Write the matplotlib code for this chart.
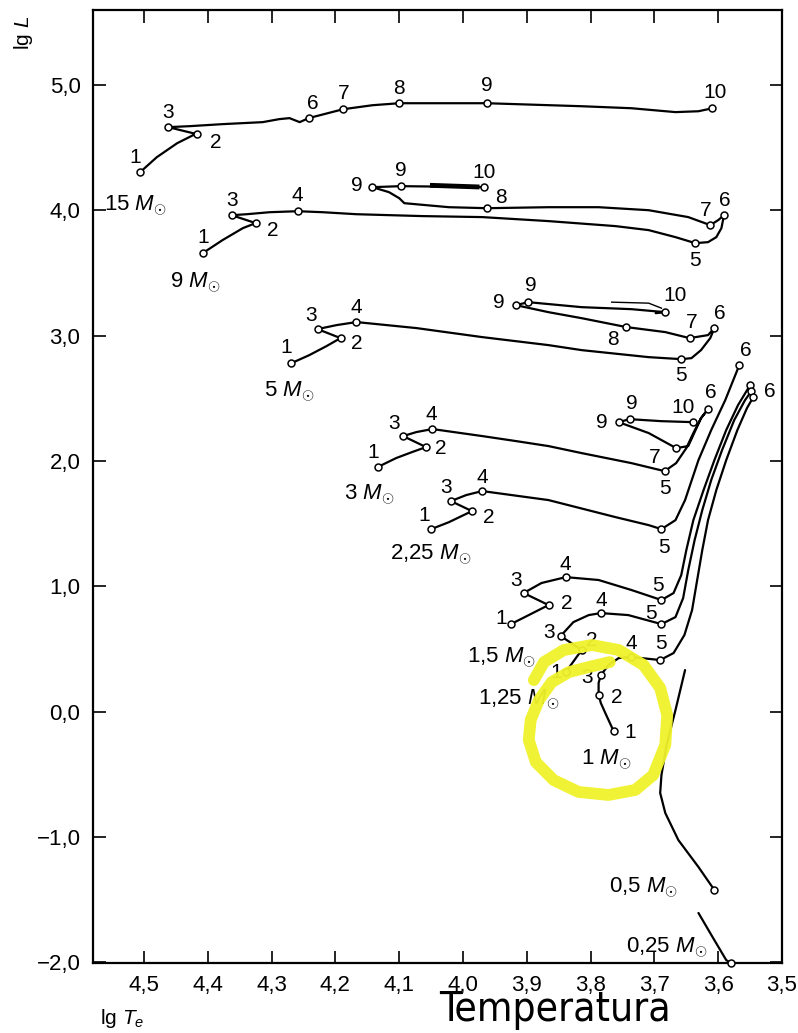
import matplotlib
matplotlib.use('agg')
import matplotlib.pyplot as plt
from matplotlib import font_manager

plt.rcParams['font.family'] = ['Liberation Sans', 'DejaVu Sans']
plt.rcParams['mathtext.fontset'] = 'custom'
plt.rcParams['mathtext.rm'] = 'Liberation Sans'
plt.rcParams['mathtext.it'] = 'Liberation Sans:italic'

# Axis ticks (lg Te, lg L) with decimal commas as in the original
x_ticks = [4.5, 4.4, 4.3, 4.2, 4.1, 4.0, 3.9, 3.8, 3.7, 3.6, 3.5]
x_ticklabels = ['4,5', '4,4', '4,3', '4,2', '4,1', '4,0', '3,9', '3,8', '3,7', '3,6', '3,5']
y_ticks = [-2, -1, 0, 1, 2, 3, 4, 5]
y_ticklabels = ['\u22122,0', '\u22121,0', '0,0', '1,0', '2,0', '3,0', '4,0', '5,0']

# Evolutionary tracks: lg Te, lg L
m15_T = [4.506, 4.480, 4.448, 4.423, 4.417, 4.462, 4.428, 4.377, 4.314, 4.288, 4.272, 4.264,
         4.256, 4.242, 4.188, 4.142, 4.100, 4.048, 3.963, 3.814, 3.736, 3.667, 3.631, 3.609]
m15_L = [4.306, 4.425, 4.537, 4.601, 4.609, 4.665, 4.673, 4.689, 4.705, 4.729, 4.737, 4.721,
         4.705, 4.737, 4.808, 4.840, 4.856, 4.856, 4.856, 4.832, 4.816, 4.785, 4.792, 4.816]
m15_stage = ['1', '2', '3', '6', '7', '8', '9', '10']
m15_stage_T = [4.506, 4.417, 4.462, 4.242, 4.188, 4.100, 3.963, 3.609]
m15_stage_L = [4.306, 4.609, 4.665, 4.737, 4.808, 4.856, 4.856, 4.816]

m9_T = [4.408, 4.377, 4.345, 4.325, 4.3625, 4.339, 4.303, 4.259, 4.220, 4.167, 4.064, 3.970,
        3.866, 3.761, 3.709, 3.667, 3.636, 3.616, 3.603, 3.595, 3.591, 3.600, 3.6125, 3.647,
        3.709, 3.7875, 3.866, 3.9625, 4.022, 4.092, 4.100, 4.116, 4.142, 4.097, 3.967]
m9_L = [3.659, 3.763, 3.859, 3.899, 3.962, 3.970, 3.986, 3.994, 3.986, 3.970, 3.955, 3.947,
        3.915, 3.875, 3.843, 3.787, 3.739, 3.747, 3.787, 3.859, 3.962, 3.923, 3.883, 3.947,
        4.002, 4.026, 4.026, 4.018, 4.026, 4.058, 4.098, 4.146, 4.186, 4.194, 4.186]
m9_blob_T = [4.048, 3.978]
m9_blob_L = [4.200, 4.188]
m9_stage = ['1', '2', '3', '4', '5', '6', '7', '8', '9', '9', '10']
m9_stage_T = [4.408, 4.325, 4.3625, 4.259, 3.636, 3.591, 3.6125, 3.9625, 4.142, 4.097, 3.967]
m9_stage_L = [3.659, 3.899, 3.962, 3.994, 3.739, 3.962, 3.883, 4.018, 4.186, 4.194, 4.186]

m5_T = [4.269, 4.241, 4.214, 4.192, 4.228, 4.198, 4.167, 4.073, 3.970, 3.866, 3.814, 3.709,
        3.658, 3.642, 3.627, 3.6125, 3.606, 3.616, 3.645, 3.683, 3.744, 3.814, 3.866, 3.917,
        3.898, 3.814, 3.736, 3.683, 3.698]
m5_L = [2.781, 2.845, 2.917, 2.981, 3.053, 3.085, 3.109, 3.061, 2.989, 2.925, 2.885, 2.829,
        2.813, 2.821, 2.885, 2.981, 3.061, 3.005, 2.981, 3.029, 3.069, 3.140, 3.188, 3.244,
        3.268, 3.228, 3.212, 3.188, 3.180]
m5_extra_T = [3.767, 3.709, 3.689]
m5_extra_L = [3.268, 3.260, 3.220]
m5_stage = ['1', '2', '3', '4', '5', '6', '7', '8', '9', '9', '10']
m5_stage_T = [4.269, 4.192, 4.228, 4.167, 3.658, 3.606, 3.645, 3.744, 3.917, 3.898, 3.683]
m5_stage_L = [2.781, 2.981, 3.053, 3.109, 2.813, 3.061, 2.981, 3.069, 3.244, 3.268, 3.188]

m3_T = [4.134, 4.105, 4.080, 4.058, 4.094, 4.073, 4.048, 3.970, 3.917, 3.866, 3.814, 3.736,
        3.684, 3.666, 3.650, 3.639, 3.627, 3.616, 3.627, 3.647, 3.666, 3.709, 3.756, 3.739,
        3.689, 3.639]
m3_L = [1.951, 2.023, 2.071, 2.111, 2.199, 2.231, 2.255, 2.199, 2.159, 2.119, 2.063, 1.983,
        1.919, 1.983, 2.103, 2.223, 2.342, 2.414, 2.342, 2.119, 2.103, 2.223, 2.310, 2.334,
        2.318, 2.310]
m3_stage = ['1', '2', '3', '4', '5', '6', '7', '9', '9', '10']
m3_stage_T = [4.134, 4.058, 4.094, 4.048, 3.684, 3.616, 3.666, 3.756, 3.739, 3.639]
m3_stage_L = [1.951, 2.111, 2.199, 2.255, 1.919, 2.414, 2.103, 2.310, 2.334, 2.310]

m225_T = [4.050, 4.022, 3.986, 4.019, 3.995, 3.970, 3.866, 3.761, 3.709, 3.689, 3.667, 3.652,
          3.631, 3.611, 3.589, 3.567]
m225_L = [1.456, 1.512, 1.600, 1.680, 1.728, 1.760, 1.688, 1.552, 1.488, 1.456, 1.528, 1.688,
          2.007, 2.247, 2.486, 2.765]
m225_stage = ['1', '2', '3', '4', '5', '6']
m225_stage_T = [4.050, 3.986, 4.019, 3.970, 3.689, 3.567]
m225_stage_L = [1.456, 1.600, 1.680, 1.760, 1.456, 2.765]

m15s_T = [3.925, 3.897, 3.866, 3.905, 3.877, 3.839, 3.7875, 3.736, 3.689, 3.670, 3.658, 3.650,
          3.639, 3.623, 3.606, 3.5875, 3.569, 3.550]
m15s_L = [0.698, 0.770, 0.850, 0.946, 1.026, 1.073, 1.050, 0.970, 0.890, 0.946, 1.089, 1.289,
          1.528, 1.768, 2.007, 2.247, 2.446, 2.606]
m15s_stage = ['1', '2', '3', '4', '5', '']
m15s_stage_T = [3.925, 3.866, 3.905, 3.839, 3.689, 3.550]
m15s_stage_L = [0.698, 0.850, 0.946, 1.073, 0.890, 2.606]

m125_T = [3.839, 3.814, 3.847, 3.827, 3.803, 3.784, 3.741, 3.689, 3.667, 3.655, 3.647, 3.637,
          3.625, 3.611, 3.594, 3.575, 3.558, 3.548]
m125_L = [0.315, 0.491, 0.603, 0.714, 0.770, 0.786, 0.770, 0.698, 0.754, 0.906, 1.129, 1.369,
          1.608, 1.848, 2.087, 2.326, 2.486, 2.558]
m125_stage = ['1', '2', '3', '4', '5', '6']
m125_stage_T = [3.839, 3.814, 3.847, 3.784, 3.689, 3.548]
m125_stage_L = [0.315, 0.491, 0.603, 0.786, 0.698, 2.558]

m1_T = [3.764, 3.777, 3.784, 3.7875, 3.7875, 3.784, 3.772, 3.756, 3.736, 3.691, 3.670, 3.653,
        3.641, 3.633, 3.625, 3.616, 3.603, 3.5875, 3.570, 3.555, 3.545]
m1_L = [-0.156, -0.012, 0.068, 0.132, 0.228, 0.291, 0.371, 0.427, 0.435, 0.411, 0.467, 0.611,
        0.810, 1.050, 1.289, 1.528, 1.768, 2.007, 2.247, 2.422, 2.510]
m1_stage = ['1', '2', '3', '4', '5', '']
m1_stage_T = [3.764, 3.7875, 3.784, 3.736, 3.691, 3.545]
m1_stage_L = [-0.156, 0.132, 0.291, 0.435, 0.411, 2.510]

m05_T = [3.652, 3.667, 3.681, 3.689, 3.691, 3.683, 3.6625, 3.631, 3.606]
m05_L = [0.331, 0.012, -0.267, -0.507, -0.650, -0.810, -1.026, -1.241, -1.425]

m025_T = [3.631, 3.608, 3.5875, 3.580]
m025_L = [-1.608, -1.808, -1.984, -2.007]

# Hand-drawn yellow highlight around the 1 Msun track
circle_T = [3.770, 3.803, 3.834, 3.861, 3.881, 3.894, 3.897, 3.886, 3.858, 3.819, 3.772,
            3.730, 3.702, 3.683, 3.680, 3.691, 3.717, 3.756, 3.798, 3.842, 3.873, 3.889]
circle_L = [0.395, 0.355, 0.315, 0.235, 0.092, -0.068, -0.227, -0.403, -0.547, -0.642, -0.666,
            -0.626, -0.507, -0.267, -0.028, 0.188, 0.371, 0.491, 0.531, 0.491, 0.395, 0.251]

# label offsets for the stage numbers (pixels)
offsets = {
    'm15': [(-5, 15), (19, -8), (0, 15), (4, 15), (1, 16), (0, 15), (0, 18), (3, 16)],
    'm9': [(0, 16), (17, -7), (0, 15), (0, 16), (0, -17), (1, 15), (-5, 15), (14, 11),
           (-16, 2), (0, 16), (0, 15)],
    'm5': [(-5, 16), (16, -5), (-6, 14), (0, 15), (0, -16), (5, 15), (2, 16), (-13, -12),
           (-17, 3), (3, 17), (10, 17)],
    'm3': [(-4, 15), (15, -1), (-9, 13), (-1, 15), (0, -17), (3, 17), (-21, -9), (-17, 0),
           (2, 16), (-10, 15)],
    'm225': [(-7, 14), (17, -6), (-5, 14), (0, 14), (3, -18), (7, 15)],
    'm15s': [(-10, 6), (18, 2), (-8, 13), (0, 13), (-3, 15), (0, 0)],
    'm125': [(-10, 0), (10, 10), (-12, 4), (0, 13), (-10, 11), (18, 0)],
    'm1': [(17, -1), (18, -2), (-14, -2), (0, 14), (1, 17), (0, 0)],
}

tracks = [
    ('m15', m15_T, m15_L, m15_stage, m15_stage_T, m15_stage_L),
    ('m9', m9_T, m9_L, m9_stage, m9_stage_T, m9_stage_L),
    ('m5', m5_T, m5_L, m5_stage, m5_stage_T, m5_stage_L),
    ('m3', m3_T, m3_L, m3_stage, m3_stage_T, m3_stage_L),
    ('m225', m225_T, m225_L, m225_stage, m225_stage_T, m225_stage_L),
    ('m15s', m15s_T, m15s_L, m15s_stage, m15s_stage_T, m15s_stage_L),
    ('m125', m125_T, m125_L, m125_stage, m125_stage_T, m125_stage_L),
    ('m1', m1_T, m1_L, m1_stage, m1_stage_T, m1_stage_L),
]

fig = plt.figure(figsize=(7.98, 10.33), dpi=100)
ax = fig.add_axes([0.1165, 0.0678, 0.8635, 0.9225])

line_kw = dict(color='black', lw=1.6, solid_joinstyle='round', solid_capstyle='round')
circ_kw = dict(ls='none', marker='o', ms=5, mfc='white', mec='black', mew=1.1, zorder=4,
               clip_on=False)

for key, T, L, stage, sT, sL in tracks:
    ax.plot(T, L, **line_kw)
    ax.plot(sT, sL, **circ_kw)
    for lab, x, y, (dx, dy) in zip(stage, sT, sL, offsets[key]):
        if lab:
            ax.annotate(lab, (x, y), xytext=(dx, dy), textcoords='offset pixels',
                        ha='center', va='center', fontsize=15)

ax.plot(m9_blob_T, m9_blob_L, color='black', lw=3.5)
ax.plot(m5_extra_T, m5_extra_L, color='black', lw=1.0)
ax.plot(m05_T, m05_L, **line_kw)
ax.plot(m05_T[-1:], m05_L[-1:], **circ_kw)
ax.plot(m025_T, m025_L, **line_kw)
ax.plot(m025_T[-1:], m025_L[-1:], **circ_kw)

# mass labels
mass_labels = [
    (4.514, 4.042, '15'), (4.420, 3.420, '9'), (4.272, 2.550, '5'), (4.147, 1.728, '3'),
    (4.050, 1.250, '2,25'), (3.939, 0.427, '1,5'), (3.9125, 0.092, '1,25'),
    (3.775, -0.387, '1'), (3.717, -1.409, '0,5'), (3.681, -1.888, '0,25'),
]
for x, y, m in mass_labels:
    ax.text(x, y, m + r' $M_{\odot}$', ha='center', va='center', fontsize=16)

ax.plot(circle_T, circle_L, color='#f0f22a', lw=8.5, alpha=0.95, solid_capstyle='round',
        solid_joinstyle='round', zorder=6)

ax.set_xlim(4.58, 3.503)
ax.set_ylim(-2.007, 5.6)
ax.set_xticks(x_ticks)
ax.set_xticklabels(x_ticklabels)
ax.set_yticks(y_ticks)
ax.set_yticklabels(y_ticklabels)
ax.tick_params(direction='in', top=True, right=True, length=9, width=1.2,
               labelsize=16, pad=9)
for s in ax.spines.values():
    s.set_linewidth(1.6)

fig.text(0.029, 0.968, r'lg $L$', rotation=90, ha='center', va='center', fontsize=15)
fig.text(0.153, 0.014, r'lg $T_e$', ha='center', va='center', fontsize=15)

# big caption: narrow face if there is one, sized to the original's width
narrow = [f.fname for f in font_manager.fontManager.ttflist
          if ('Narrow' in f.name or 'Condensed' in f.fname) and 'Bold' not in f.fname
          and 'Oblique' not in f.fname and 'Italic' not in f.fname]
cap_kw = dict(ha='center', va='baseline', fontsize=36)
if narrow:
    cap_kw['fontproperties'] = font_manager.FontProperties(fname=sorted(narrow)[0], size=36)
    cap_kw.pop('fontsize')
cap = fig.text(0.696, 0.012, 'Temperatura', **cap_kw)
fig.canvas.draw()
w = cap.get_window_extent().width
cap.set_fontsize(36 * 232.0 / w)

fig.savefig('out.png', dpi=100)
